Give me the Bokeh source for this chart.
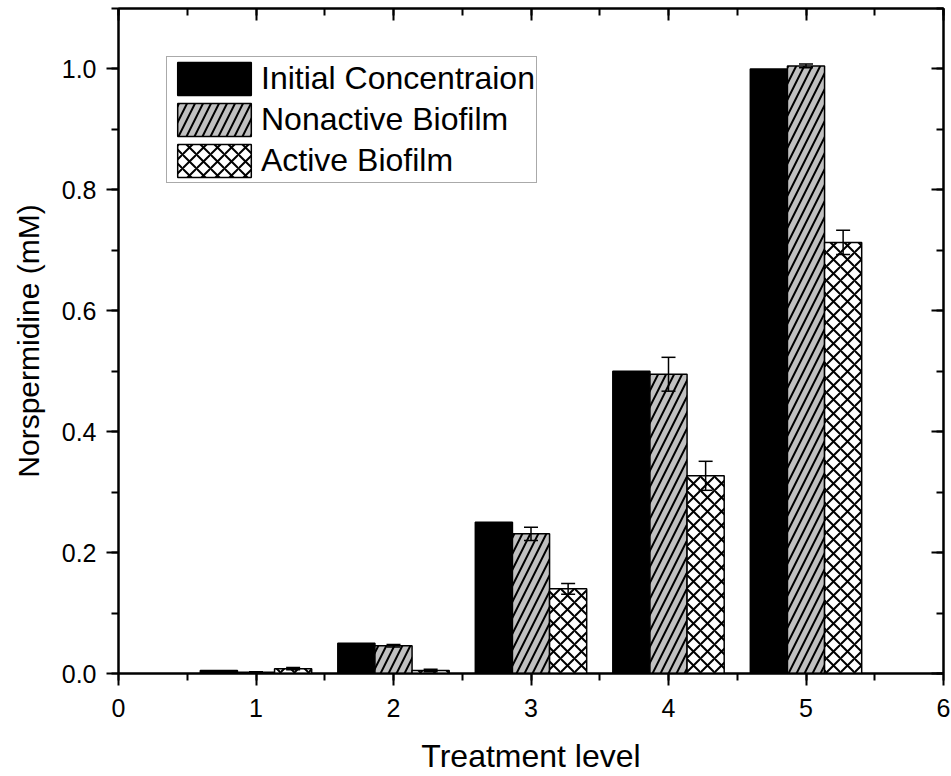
from bokeh.plotting import figure
from bokeh.models import (ColumnDataSource, Whisker, TeeHead, LinearAxis,
                          SingleIntervalTicker, Range1d, PrintfTickFormatter,
                          CustomJSTickFormatter)
from bokeh.embed import file_html
from bokeh.resources import INLINE

# ---- data ----
levels = [1, 2, 3, 4, 5]
initial = [0.005, 0.05, 0.25, 0.50, 1.00]
nonactive = [0.002, 0.046, 0.231, 0.495, 1.005]
nonactive_err = [0.001, 0.002, 0.011, 0.028, 0.003]
active = [0.008, 0.005, 0.140, 0.327, 0.713]
active_err = [0.002, 0.002, 0.009, 0.024, 0.020]
series_names = ["Initial Concentraion", "Nonactive Biofilm", "Active Biofilm"]

bar_w = 0.27
FONT = "Liberation Sans"

p = figure(width=951, height=776, x_range=Range1d(0, 6), y_range=Range1d(0, 1.1),
           output_backend="svg", toolbar_location=None,
           min_border_left=118, min_border_right=8, min_border_top=8, min_border_bottom=103)
p.xgrid.visible = False
p.ygrid.visible = False
p.outline_line_color = "black"
p.outline_line_width = 2
p.background_fill_color = "white"
p.border_fill_color = "white"

def style_axis(ax, labels=True):
    ax.axis_line_color = "black"
    ax.axis_line_width = 2
    ax.major_tick_line_color = "black"
    ax.major_tick_line_width = 2
    ax.minor_tick_line_color = "black"
    ax.minor_tick_line_width = 2
    ax.major_label_text_font = FONT
    ax.major_label_text_color = "black"
    ax.axis_label_text_font = FONT
    ax.axis_label_text_font_style = "normal"
    ax.axis_label_text_color = "black"
    if labels:
        ax.major_tick_out = 12
        ax.major_tick_in = 0
        ax.minor_tick_out = 7
        ax.minor_tick_in = 0
        ax.major_label_text_font_size = "25px"
        ax.axis_label_text_font_size = "30px"
    else:
        ax.major_tick_out = 0
        ax.major_tick_in = 12
        ax.minor_tick_out = 0
        ax.minor_tick_in = 7
        ax.formatter = CustomJSTickFormatter(code="return ''")
        ax.major_label_text_font_size = "2px"
        ax.major_label_standoff = 0

xt = SingleIntervalTicker(interval=1, num_minor_ticks=2)
yt = SingleIntervalTicker(interval=0.2, num_minor_ticks=2)

p.xaxis.ticker = xt
p.yaxis.ticker = yt
p.yaxis.formatter = PrintfTickFormatter(format="%.1f")
p.xaxis.axis_label = "Treatment level"
p.yaxis.axis_label = "Norspermidine (mM)"
style_axis(p.xaxis[0])
style_axis(p.yaxis[0])
p.xaxis.axis_label_text_font_size = "32px"
p.xaxis.major_label_standoff = 13
p.yaxis.major_label_standoff = 10
p.xaxis.axis_label_standoff = 18
p.yaxis.axis_label_standoff = 14

top = LinearAxis(ticker=SingleIntervalTicker(interval=1, num_minor_ticks=2))
right = LinearAxis(ticker=SingleIntervalTicker(interval=0.2, num_minor_ticks=2))
style_axis(top, labels=False)
style_axis(right, labels=False)
p.add_layout(top, "above")
p.add_layout(right, "right")

# ---- bars ----
src = ColumnDataSource(dict(
    x_init=[l - bar_w for l in levels],
    x_non=[l for l in levels],
    x_act=[l + bar_w for l in levels],
    initial=initial, nonactive=nonactive, active=active,
    non_up=[v + e for v, e in zip(nonactive, nonactive_err)],
    non_lo=[v - e for v, e in zip(nonactive, nonactive_err)],
    act_up=[v + e for v, e in zip(active, active_err)],
    act_lo=[v - e for v, e in zip(active, active_err)],
))

p.vbar(x="x_init", top="initial", bottom=0, width=bar_w, source=src,
       fill_color="black", line_color="black", line_width=1.5,
       legend_label=series_names[0])
p.vbar(x="x_non", top="nonactive", bottom=0, width=bar_w, source=src,
       fill_color="#c0c0c0", line_color="black", line_width=1.5,
       hatch_pattern="right_diagonal_line", hatch_color="black",
       hatch_weight=2, hatch_scale=16,
       legend_label=series_names[1])
p.vbar(x="x_act", top="active", bottom=0, width=bar_w, source=src,
       fill_color="white", line_color="black", line_width=1.5,
       hatch_pattern="diagonal_cross", hatch_color="black",
       hatch_weight=2, hatch_scale=14,
       legend_label=series_names[2])

for up, lo, base in [("non_up", "non_lo", "x_non"), ("act_up", "act_lo", "x_act")]:
    w = Whisker(source=src, base=base, upper=up, lower=lo, dimension="height",
                line_color="black", line_width=1.5, level="overlay",
                upper_head=TeeHead(size=14, line_color="black", line_width=1.5),
                lower_head=TeeHead(size=14, line_color="black", line_width=1.5))
    p.add_layout(w)

lg = p.legend[0]
lg.location = "top_left"
lg.margin = 48
lg.padding = 1
lg.spacing = 0
lg.glyph_width = 92
lg.glyph_height = 41
lg.label_height = 41
lg.label_standoff = 1
lg.label_text_font = FONT
lg.label_text_font_size = "32px"
lg.label_text_color = "black"
lg.label_text_baseline = "middle"
lg.border_line_color = "#555555"
lg.border_line_width = 1.5
lg.background_fill_color = "white"
lg.background_fill_alpha = 1.0

open("out.html", "w").write(file_html(p, INLINE))
